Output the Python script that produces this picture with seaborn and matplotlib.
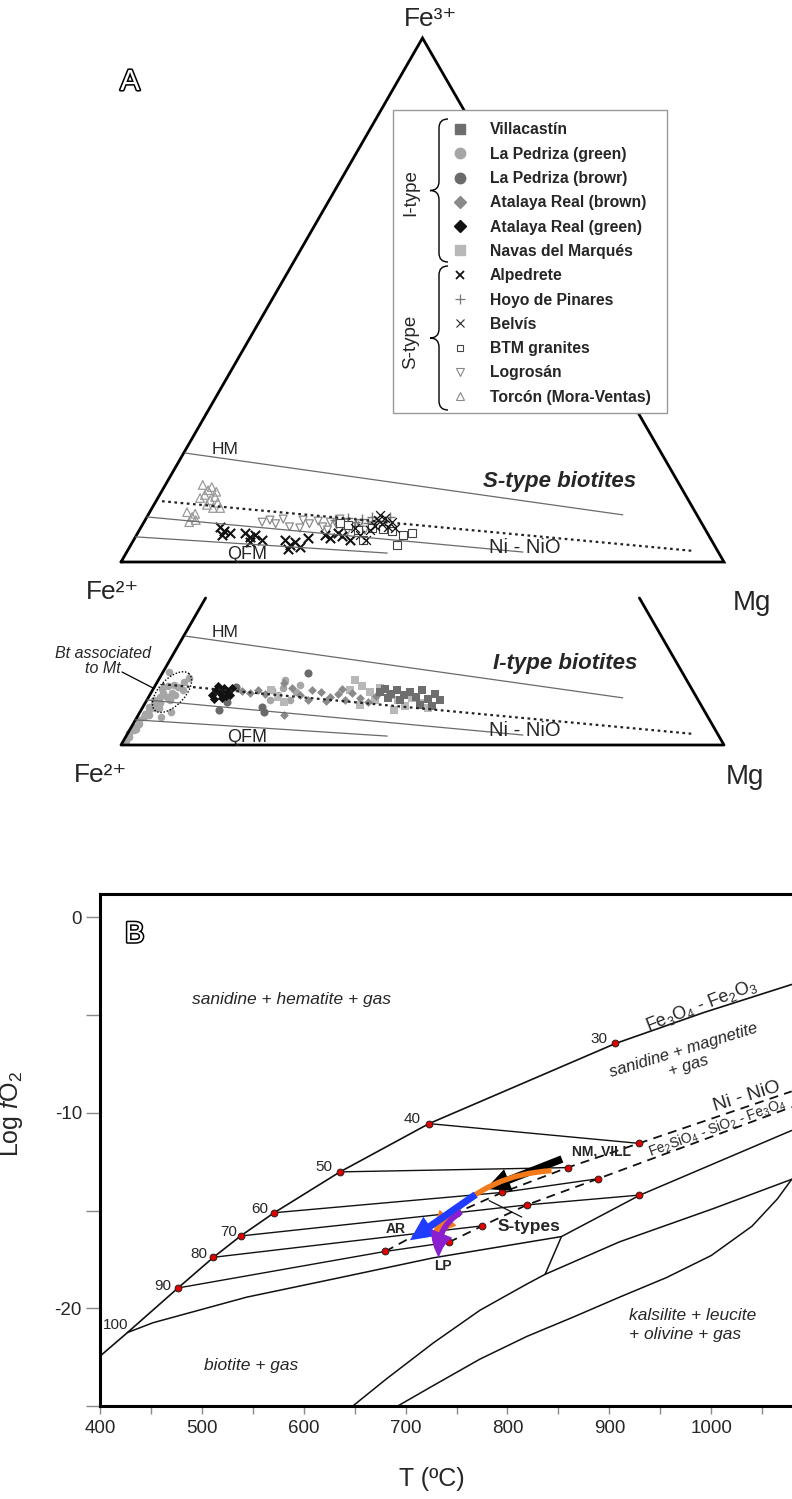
import numpy as np
import pandas as pd
import matplotlib
matplotlib.use("Agg")
import matplotlib.pyplot as plt
import seaborn as sns
from matplotlib.lines import Line2D
from matplotlib.patches import Rectangle, FancyArrowPatch, PathPatch
from matplotlib.path import Path
import matplotlib.patheffects as pe

sns.set_theme(style="white")
plt.rcParams["font.family"] = ["Liberation Sans", "DejaVu Sans"]
plt.rcParams["mathtext.fontset"] = "custom"
plt.rcParams["mathtext.rm"] = "Liberation Sans"
plt.rcParams["mathtext.it"] = "Liberation Sans:italic"
plt.rcParams["mathtext.bf"] = "Liberation Sans:bold"
plt.rcParams["axes.unicode_minus"] = False

# ---------------------------------------------------------------- panel A data
# ternary compositions as (Mg, Fe3+) fractions; Fe2+ = 1 - Mg - Fe3+
# S-type biotites
torcon_mg = [0.062, 0.076, 0.079, 0.075, 0.089, 0.094, 0.104, 0.088, 0.101, 0.113, 0.070, 0.091,
             0.062, 0.075, 0.084, 0.075, 0.077]
torcon_fe3 = [0.147, 0.137, 0.143, 0.128, 0.118, 0.124, 0.113, 0.109, 0.103, 0.103, 0.122, 0.134,
              0.095, 0.086, 0.080, 0.076, 0.092]
logrosan_mg = [0.196, 0.207, 0.220, 0.228, 0.262, 0.276, 0.288, 0.301, 0.264, 0.309, 0.322, 0.334,
               0.349, 0.312, 0.359, 0.322, 0.374, 0.381, 0.246, 0.346]
logrosan_fe3 = [0.076, 0.080, 0.073, 0.082, 0.080, 0.073, 0.078, 0.067, 0.065, 0.076, 0.071, 0.074,
                0.067, 0.061, 0.073, 0.082, 0.061, 0.069, 0.067, 0.059]
alpedrete_mg = [0.130, 0.142, 0.141, 0.153, 0.178, 0.190, 0.196, 0.213, 0.195, 0.251, 0.264, 0.270,
                0.282, 0.264, 0.287, 0.312, 0.324, 0.332, 0.342, 0.359]
alpedrete_fe3 = [0.067, 0.059, 0.052, 0.055, 0.055, 0.048, 0.052, 0.042, 0.038, 0.042, 0.032, 0.038,
                 0.029, 0.025, 0.046, 0.052, 0.046, 0.055, 0.050, 0.042]
belvis_mg = [0.386, 0.397, 0.396, 0.409, 0.387, 0.411, 0.385, 0.422, 0.383, 0.370, 0.385, 0.356]
belvis_fe3 = [0.080, 0.073, 0.084, 0.067, 0.069, 0.076, 0.090, 0.065, 0.061, 0.052, 0.042, 0.065]
hoyo_mg = [0.315, 0.330, 0.334, 0.350, 0.359, 0.373, 0.373, 0.359, 0.338, 0.382, 0.399, 0.403]
hoyo_fe3 = [0.080, 0.074, 0.084, 0.076, 0.082, 0.074, 0.086, 0.069, 0.067, 0.078, 0.078, 0.086]
btm_mg = [0.326, 0.341, 0.363, 0.380, 0.384, 0.403, 0.420, 0.442, 0.442, 0.455]
btm_fe3 = [0.074, 0.071, 0.061, 0.042, 0.065, 0.063, 0.059, 0.032, 0.052, 0.055]

# I-type biotites
pedriza_green_mg = [0.004, 0.006, 0.003, 0.008, 0.005, 0.010, 0.007, 0.012, 0.009, 0.014, 0.011,
                    0.016, 0.013, 0.018, 0.020, 0.015, 0.022, 0.010, 0.017, 0.021,
                    0.025, 0.030, 0.035, 0.040, 0.045, 0.030, 0.038, 0.050, 0.028, 0.042, 0.048,
                    0.010, 0.040, 0.051,
                    0.198, 0.213, 0.214, 0.237, 0.240, 0.210, 0.239, 0.204]
pedriza_green_fe3 = [0.008, 0.015, 0.022, 0.028, 0.035, 0.040, 0.047, 0.053, 0.060, 0.066, 0.072,
                     0.078, 0.085, 0.092, 0.100, 0.106, 0.112, 0.031, 0.058, 0.070,
                     0.080, 0.092, 0.100, 0.110, 0.120, 0.115, 0.085, 0.105, 0.070, 0.095, 0.128,
                     0.139, 0.053, 0.063,
                     0.105, 0.095, 0.109, 0.086, 0.101, 0.124, 0.115, 0.086]
pedriza_brown_mg = [0.129, 0.135, 0.198, 0.206, 0.242, 0.135]
pedriza_brown_fe3 = [0.067, 0.082, 0.073, 0.063, 0.137, 0.111]
atalaya_green_mg = [0.103, 0.105, 0.114, 0.116, 0.125, 0.110, 0.122, 0.133, 0.104, 0.127, 0.129]
atalaya_green_fe3 = [0.095, 0.105, 0.099, 0.109, 0.103, 0.088, 0.090, 0.095, 0.113, 0.094, 0.109]
atalaya_brown_mg = [0.149, 0.164, 0.174, 0.191, 0.211, 0.229, 0.249, 0.267, 0.265, 0.241, 0.282,
                    0.301, 0.311, 0.328, 0.333, 0.351, 0.369, 0.376, 0.298, 0.313]
atalaya_brown_fe3 = [0.103, 0.099, 0.105, 0.097, 0.118, 0.109, 0.095, 0.086, 0.105, 0.057, 0.101,
                     0.092, 0.097, 0.086, 0.099, 0.090, 0.082, 0.094, 0.084, 0.107]
navas_mg = [0.197, 0.214, 0.229, 0.326, 0.343, 0.362, 0.378, 0.358, 0.375, 0.398, 0.416, 0.434,
            0.438, 0.456, 0.473, 0.420, 0.327]
navas_fe3 = [0.105, 0.092, 0.082, 0.124, 0.113, 0.101, 0.086, 0.076, 0.109, 0.095, 0.086, 0.074,
             0.090, 0.080, 0.071, 0.067, 0.105]
villacastin_mg = [0.379, 0.385, 0.400, 0.406, 0.421, 0.428, 0.443, 0.446, 0.465, 0.472, 0.486,
                  0.458, 0.479, 0.420, 0.398]
villacastin_fe3 = [0.101, 0.107, 0.097, 0.105, 0.095, 0.101, 0.092, 0.105, 0.088, 0.097, 0.086,
                   0.076, 0.074, 0.086, 0.090]

# oxygen-buffer reference lines in the ternary, (Mg, Fe3+) end points
buffer_hm = ([0.002, 0.787], [0.208, 0.090])
buffer_dotted = ([0.010, 0.940], [0.116, 0.021])
buffer_nno = ([0.000, 0.657], [0.086, 0.019])
buffer_qfm = ([0.000, 0.433], [0.048, 0.017])

legend_labels = ["Villacastín", "La Pedriza (green)", "La Pedriza (browr)", "Atalaya Real (brown)",
                 "Atalaya Real (green)", "Navas del Marqués", "Alpedrete", "Hoyo de Pinares",
                 "Belvís", "BTM granites", "Logrosán", "Torcón (Mora-Ventas)"]

# ---------------------------------------------------------------- panel B data
# T (ºC) and log fO2
hm_T = [400, 427, 476.6, 511.4, 538, 571, 635.6, 723, 819, 906, 993, 1079]
hm_f = [-22.45, -21.24, -18.96, -17.39, -16.30, -15.11, -13.02, -10.55, -8.40, -6.45, -4.86, -3.43]
annite_T = [427, 452, 544, 635.6, 727, 853]
annite_f = [-21.24, -20.74, -19.43, -18.43, -17.42, -16.33]
kals_upper_T = [837, 853, 930, 1079]
kals_upper_f = [-18.26, -16.33, -14.21, -10.9]
kals_mid_T = [837, 910, 1002, 1079]
kals_mid_f = [-18.26, -16.6, -14.9, -13.4]
kals_left_T = [647, 681, 727, 773, 819, 837]
kals_left_f = [-25.05, -23.62, -21.78, -20.1, -18.76, -18.26]
kals_right_T = [690.6, 727, 773, 819, 865, 910, 956, 1000, 1040, 1065, 1079]
kals_right_f = [-25.05, -23.96, -22.6, -21.44, -20.44, -19.43, -18.43, -17.3, -15.8, -14.4, -13.4]
nno_T = [680, 750, 795, 859, 929, 1079]
nno_f = [-17.09, -15.11, -14.07, -12.8, -11.56, -8.9]
fmq_T = [742.4, 775.4, 819, 889, 1079]
fmq_f = [-16.62, -15.78, -14.71, -13.37, -9.7]

# biotite isopleths, 100 Fe/(Fe+Mg) = 40 ... 90
iso_labels = ["40", "50", "60", "70", "80", "90"]
iso_T = [[723, 929], [635.6, 859], [571, 795, 889], [538, 750, 819, 929], [511.4, 775.4],
         [476.6, 680, 742.4]]
iso_f = [[-10.55, -11.56], [-13.02, -12.8], [-15.11, -14.07, -13.37], [-16.30, -15.11, -14.71, -14.21],
         [-17.39, -15.78], [-18.96, -17.09, -16.62]]

node_T = [906, 723, 635.6, 571, 538, 511.4, 476.6, 929, 859, 795, 750, 680, 889, 819, 775.4, 742.4, 929]
node_f = [-6.45, -10.55, -13.02, -15.11, -16.30, -17.39, -18.96, -11.56, -12.8, -14.07, -15.11,
          -17.09, -13.37, -14.71, -15.78, -16.62, -14.21]
num_labels = ["30", "40", "50", "60", "70", "80", "90", "100"]
num_T = [890, 706.6, 619.6, 556.8, 526.6, 497.2, 461.5, 415.7]
num_f = [-6.2, -10.3, -12.77, -14.91, -16.08, -17.22, -18.88, -20.86]

# evolution trends (start, end, curvature, shaft width)
trend_colors = ["#000000", "#f27a1a", "#1f3cff", "#8a1fcf"]
trend_start = [(856, -12.31), (846, -12.95), (771, -14.1), (757, -14.99)]
trend_end = [(776, -13.95), (725, -16.45), (702, -16.6), (733, -17.55)]
trend_rad = [0.0, 0.25, 0.0, 0.35]
trend_tail = [0.34, 0.24, 0.32, 0.26]

# ---------------------------------------------------------------- figure
W, H = 792, 1499
fig = plt.figure(figsize=(W / 100, H / 100), dpi=100)


def px_axes(x0, y0, x1, y1):
    return fig.add_axes([x0 / W, 1 - y1 / H, (x1 - x0) / W, (y1 - y0) / H])


def cart(mg, fe3):
    mg = np.asarray(mg, float)
    fe3 = np.asarray(fe3, float)
    return mg + fe3 / 2.0, fe3


SX, SY = 603.0, 524.0  # pixels per ternary unit
axT = px_axes(0, 0, W, 578)
axT.set_xlim(-121 / SX, (W - 121) / SX)
axT.set_ylim((562 - 578) / SY, 562 / SY)
axL = px_axes(0, 578, W, 800)
axL.set_xlim(-121 / SX, (W - 121) / SX)
axL.set_ylim((745 - 800) / SY, (745 - 578) / SY)
for a in (axT, axL):
    a.axis("off")

# triangle outlines
axT.plot([0, 1, 0.5, 0], [0, 0, 1, 0], color="black", lw=2.0, solid_joinstyle="miter")
top_cut = (745 - 598) / SY
axL.plot([top_cut / 2, 0, 1, 1 - top_cut / 2], [top_cut, 0, 0, top_cut], color="black", lw=2.0)

for a in (axT, axL):
    x, y = cart(*buffer_hm)
    a.plot(x, y, color="#6a6a6a", lw=0.9)
    x, y = cart(*buffer_nno)
    a.plot(x, y, color="#6a6a6a", lw=0.9)
    x, y = cart(*buffer_qfm)
    a.plot(x, y, color="#6a6a6a", lw=0.9)
    x, y = cart(*buffer_dotted)
    a.plot(x, y, color="#222222", lw=1.6, linestyle=(0, (1.2, 1.6)))
    a.text(0.150, 0.214, "HM", fontsize=12.5, ha="left", va="center")
    a.text(0.610, 0.0286, "Ni - NiO", fontsize=14.5, ha="left", va="center")
    a.text(0.209, 0.0150, "QFM", fontsize=13, ha="center", va="center")

axT.text(0.728, 0.153, "S-type biotites", fontsize=16, fontweight="bold", style="italic",
         ha="center", va="center")
axL.text(0.736, 0.156, "I-type biotites", fontsize=16, fontweight="bold", style="italic",
         ha="center", va="center")

# corner labels
axT.text((430 - 121) / SX, (562 - 19) / SY, "Fe³⁺", fontsize=19, ha="center", va="center")
axT.text((112 - 121) / SX, (562 - 592) / SY, "Fe²⁺", fontsize=19, ha="center", va="center")
axT.text((752 - 121) / SX, (562 - 603) / SY, "Mg", fontsize=20, ha="center", va="center")
axL.text((100 - 121) / SX, (745 - 775) / SY, "Fe²⁺", fontsize=19, ha="center", va="center")
axL.text((745 - 121) / SX, (745 - 777) / SY, "Mg", fontsize=20, ha="center", va="center")


def tscatter(ax, mg, fe3, **kw):
    x, y = cart(mg, fe3)
    sns.scatterplot(x=x, y=y, ax=ax, legend=False, **kw)


# S-type points
tscatter(axT, torcon_mg, torcon_fe3, marker="^", s=38, facecolor="none", edgecolor="#9a9a9a",
         color="#9a9a9a", linewidth=0.9)
tscatter(axT, logrosan_mg, logrosan_fe3, marker="v", s=32, facecolor="none", edgecolor="#8a8a8a",
         color="#8a8a8a", linewidth=0.9)
tscatter(axT, hoyo_mg, hoyo_fe3, marker="+", s=45, color="#777777", linewidth=1.0)
tscatter(axT, btm_mg, btm_fe3, marker="s", s=26, facecolor="white", edgecolor="#444444",
         color="#444444", linewidth=0.8)
tscatter(axT, alpedrete_mg, alpedrete_fe3, marker="x", s=45, color="#111111", linewidth=1.5)
tscatter(axT, belvis_mg, belvis_fe3, marker="x", s=40, color="#111111", linewidth=0.9)

# I-type points
tscatter(axL, pedriza_green_mg, pedriza_green_fe3, marker="o", s=30, color="#a6a6a6", linewidth=0)
tscatter(axL, navas_mg, navas_fe3, marker="s", s=30, color="#b8b8b8", linewidth=0)
tscatter(axL, atalaya_brown_mg, atalaya_brown_fe3, marker="D", s=20, color="#8a8a8a", linewidth=0)
tscatter(axL, villacastin_mg, villacastin_fe3, marker="s", s=30, color="#6e6e6e", linewidth=0)
tscatter(axL, pedriza_brown_mg, pedriza_brown_fe3, marker="o", s=34, color="#6a6a6a", linewidth=0)
tscatter(axL, atalaya_green_mg, atalaya_green_fe3, marker="D", s=22, color="#111111", linewidth=0)

# dotted ellipse around biotite associated to magnetite
t = np.linspace(0, 2 * np.pi, 120)
ang = np.deg2rad(47)
u, v = 25 * np.cos(t), 13 * np.sin(t)
ex = 0.0846 + (u * np.cos(ang) - v * np.sin(ang)) / SX
ey = 0.101 + (u * np.sin(ang) + v * np.cos(ang)) / SY
axL.plot(ex, ey, color="black", lw=1.0, linestyle=(0, (1, 1.3)))
axL.text((103 - 121) / SX, (745 - 661) / SY, "Bt associated\nto Mt", fontsize=11.5,
         style="italic", ha="center", va="center", linespacing=1.0)
axL.plot([(122 - 121) / SX, (153 - 121) / SX], [(745 - 672) / SY, (745 - 688) / SY],
         color="black", lw=0.9)

# ---------------------------------------------------------------- overlay (legend box, braces)
ov = fig.add_axes([0, 0, 1, 1])
ov.set_xlim(0, W)
ov.set_ylim(H, 0)
ov.axis("off")
ov.patch.set_visible(False)

ov.add_patch(Rectangle((393, 110), 274, 303, facecolor="white", edgecolor="#999999", lw=1.0))


def brace(x, y0, y1, w):
    ym = (y0 + y1) / 2
    verts = [(x + w, y0), (x + w / 2, y0), (x + w / 2, y0 + w / 2),
             (x + w / 2, ym - w / 2),
             (x + w / 2, ym), (x, ym),
             (x + w / 2, ym), (x + w / 2, ym + w / 2),
             (x + w / 2, y1 - w / 2),
             (x + w / 2, y1), (x + w, y1)]
    codes = [Path.MOVETO, Path.CURVE3, Path.CURVE3, Path.LINETO, Path.CURVE3, Path.CURVE3,
             Path.CURVE3, Path.CURVE3, Path.LINETO, Path.CURVE3, Path.CURVE3]
    return PathPatch(Path(verts, codes), facecolor="none", edgecolor="black", lw=1.0)


ov.add_patch(brace(430, 119, 262, 18))
ov.add_patch(brace(430, 266, 410, 18))
ov.text(411, 193, "I-type", rotation=90, fontsize=13.5, ha="center", va="center")
ov.text(411, 342, "S-type", rotation=90, fontsize=13.5, ha="center", va="center")

handles = [
    Line2D([], [], ls="none", marker="s", ms=7, mfc="#6e6e6e", mec="#6e6e6e"),
    Line2D([], [], ls="none", marker="o", ms=7.5, mfc="#a6a6a6", mec="#a6a6a6"),
    Line2D([], [], ls="none", marker="o", ms=7.5, mfc="#6a6a6a", mec="#6a6a6a"),
    Line2D([], [], ls="none", marker="D", ms=6, mfc="#8a8a8a", mec="#8a8a8a"),
    Line2D([], [], ls="none", marker="D", ms=6, mfc="#111111", mec="#111111"),
    Line2D([], [], ls="none", marker="s", ms=7, mfc="#b8b8b8", mec="#b8b8b8"),
    Line2D([], [], ls="none", marker="x", ms=5.5, mec="#111111", mew=1.3),
    Line2D([], [], ls="none", marker="+", ms=7, mec="#777777", mew=0.9),
    Line2D([], [], ls="none", marker="x", ms=6, mec="#222222", mew=0.8),
    Line2D([], [], ls="none", marker="s", ms=5, mfc="white", mec="#444444", mew=0.8),
    Line2D([], [], ls="none", marker="v", ms=6, mfc="white", mec="#888888", mew=0.8),
    Line2D([], [], ls="none", marker="^", ms=6, mfc="white", mec="#888888", mew=0.8),
]
ov.legend(handles, legend_labels, loc="upper left", bbox_to_anchor=(452.2, 122.4),
          bbox_transform=ov.transData, frameon=False, borderpad=0, borderaxespad=0,
          handlelength=1.0, handletextpad=1.41, labelspacing=0.593,
          prop={"weight": "bold", "size": 11.3})

outline = [pe.withStroke(linewidth=2.2, foreground="black")]
ov.text(130, 82, "A", fontsize=21, color="white", ha="center", va="center", path_effects=outline)

# ---------------------------------------------------------------- panel B
axB = px_axes(100, 894, W, 1406)
axB.set_xlim(400, 1079.3)
axB.set_ylim(-25.0, 1.2)
for side in ("left", "bottom", "top"):
    axB.spines[side].set_visible(True)
    axB.spines[side].set_color("black")
    axB.spines[side].set_linewidth(2.2)
axB.spines["right"].set_visible(False)
axB.set_xticks([400, 500, 600, 700, 800, 900, 1000])
axB.set_xticks(np.arange(450, 1080, 100), minor=True)
axB.set_yticks([0, -10, -20])
axB.set_yticks([-5, -15, -25], minor=True)
axB.tick_params(axis="x", which="both", direction="out", length=6, width=1, color="#888888",
                labelsize=13.5, pad=4, bottom=True)
axB.tick_params(axis="y", which="both", direction="out", length=10, width=1, color="#888888",
                labelsize=13.5, pad=3, left=True)
axB.set_xlabel("T (ºC)", fontsize=18)
axB.xaxis.set_label_coords(0.48, -0.12)
axB.set_ylabel(r"Log $\mathit{f}$O$_2$", fontsize=18)
axB.yaxis.set_label_coords(-0.108, 0.57)

lc = "#111111"
axB.plot(hm_T, hm_f, color=lc, lw=1.2)
axB.plot(annite_T, annite_f, color=lc, lw=1.1)
axB.plot(kals_upper_T, kals_upper_f, color=lc, lw=1.1)
axB.plot(kals_mid_T, kals_mid_f, color=lc, lw=1.1)
axB.plot(kals_left_T, kals_left_f, color=lc, lw=1.1)
axB.plot(kals_right_T, kals_right_f, color=lc, lw=1.1)
for tt, ff in zip(iso_T, iso_f):
    axB.plot(tt, ff, color=lc, lw=1.0)
axB.plot(nno_T, nno_f, color=lc, lw=1.3, linestyle=(0, (5, 3.5)))
axB.plot(fmq_T, fmq_f, color=lc, lw=1.3, linestyle=(0, (5, 3.5)))

sns.scatterplot(x=node_T, y=node_f, ax=axB, marker="o", s=24, color="#e00000",
                edgecolor="#222222", linewidth=0.7, zorder=5, legend=False)
for lab, tt, ff in zip(num_labels, num_T, num_f):
    axB.text(tt, ff, lab, fontsize=11, ha="center", va="center")

for c, p0, p1, r, tw in zip(trend_colors, trend_start, trend_end, trend_rad, trend_tail):
    axB.add_patch(FancyArrowPatch(p0, p1, connectionstyle=f"arc3,rad={r}",
                                  arrowstyle=f"simple,head_length=1.1,head_width=1.05,tail_width={tw}",
                                  mutation_scale=16, color=c, lw=0, zorder=6))

axB.text(892, -11.96, "NM, VILL", fontsize=10, fontweight="bold", ha="center", va="center")
axB.text(821, -15.83, "S-types", fontsize=12.5, fontweight="bold", ha="center", va="center")
axB.text(690.6, -15.95, "AR", fontsize=10, fontweight="bold", ha="center", va="center")
axB.text(736.4, -17.84, "LP", fontsize=10, fontweight="bold", ha="center", va="center")
axB.plot([782, 814], [-14.49, -15.33], color=lc, lw=0.9)

axB.text(588, -4.19, "sanidine + hematite + gas", fontsize=12.5, style="italic",
         ha="center", va="center")
axB.text(975, -7.2, "sanidine + magnetite\n+ gas", fontsize=12, style="italic", rotation=17,
         ha="center", va="center", multialignment="center", linespacing=1.1)
axB.text(990, -4.5, r"Fe$_3$O$_4$ - Fe$_2$O$_3$", fontsize=13, rotation=21,
         ha="center", va="center")
axB.text(1035, -9.15, "Ni - NiO", fontsize=14, rotation=17, ha="center", va="center")
axB.text(1006, -10.75, r"Fe$_2$SiO$_4$ - SiO$_2$ - Fe$_3$O$_4$", fontsize=10, rotation=20,
         ha="center", va="center")
axB.text(548.6, -22.95, "biotite + gas", fontsize=12.5, style="italic", ha="center", va="center")
axB.text(919, -20.85, "kalsilite + leucite\n+ olivine + gas", fontsize=12.5, style="italic",
         ha="left", va="center", linespacing=1.3)
axB.text(434, -0.86, "B", fontsize=21, color="white", ha="center", va="center",
         path_effects=outline)

fig.savefig("out.png", dpi=100, facecolor="white")
